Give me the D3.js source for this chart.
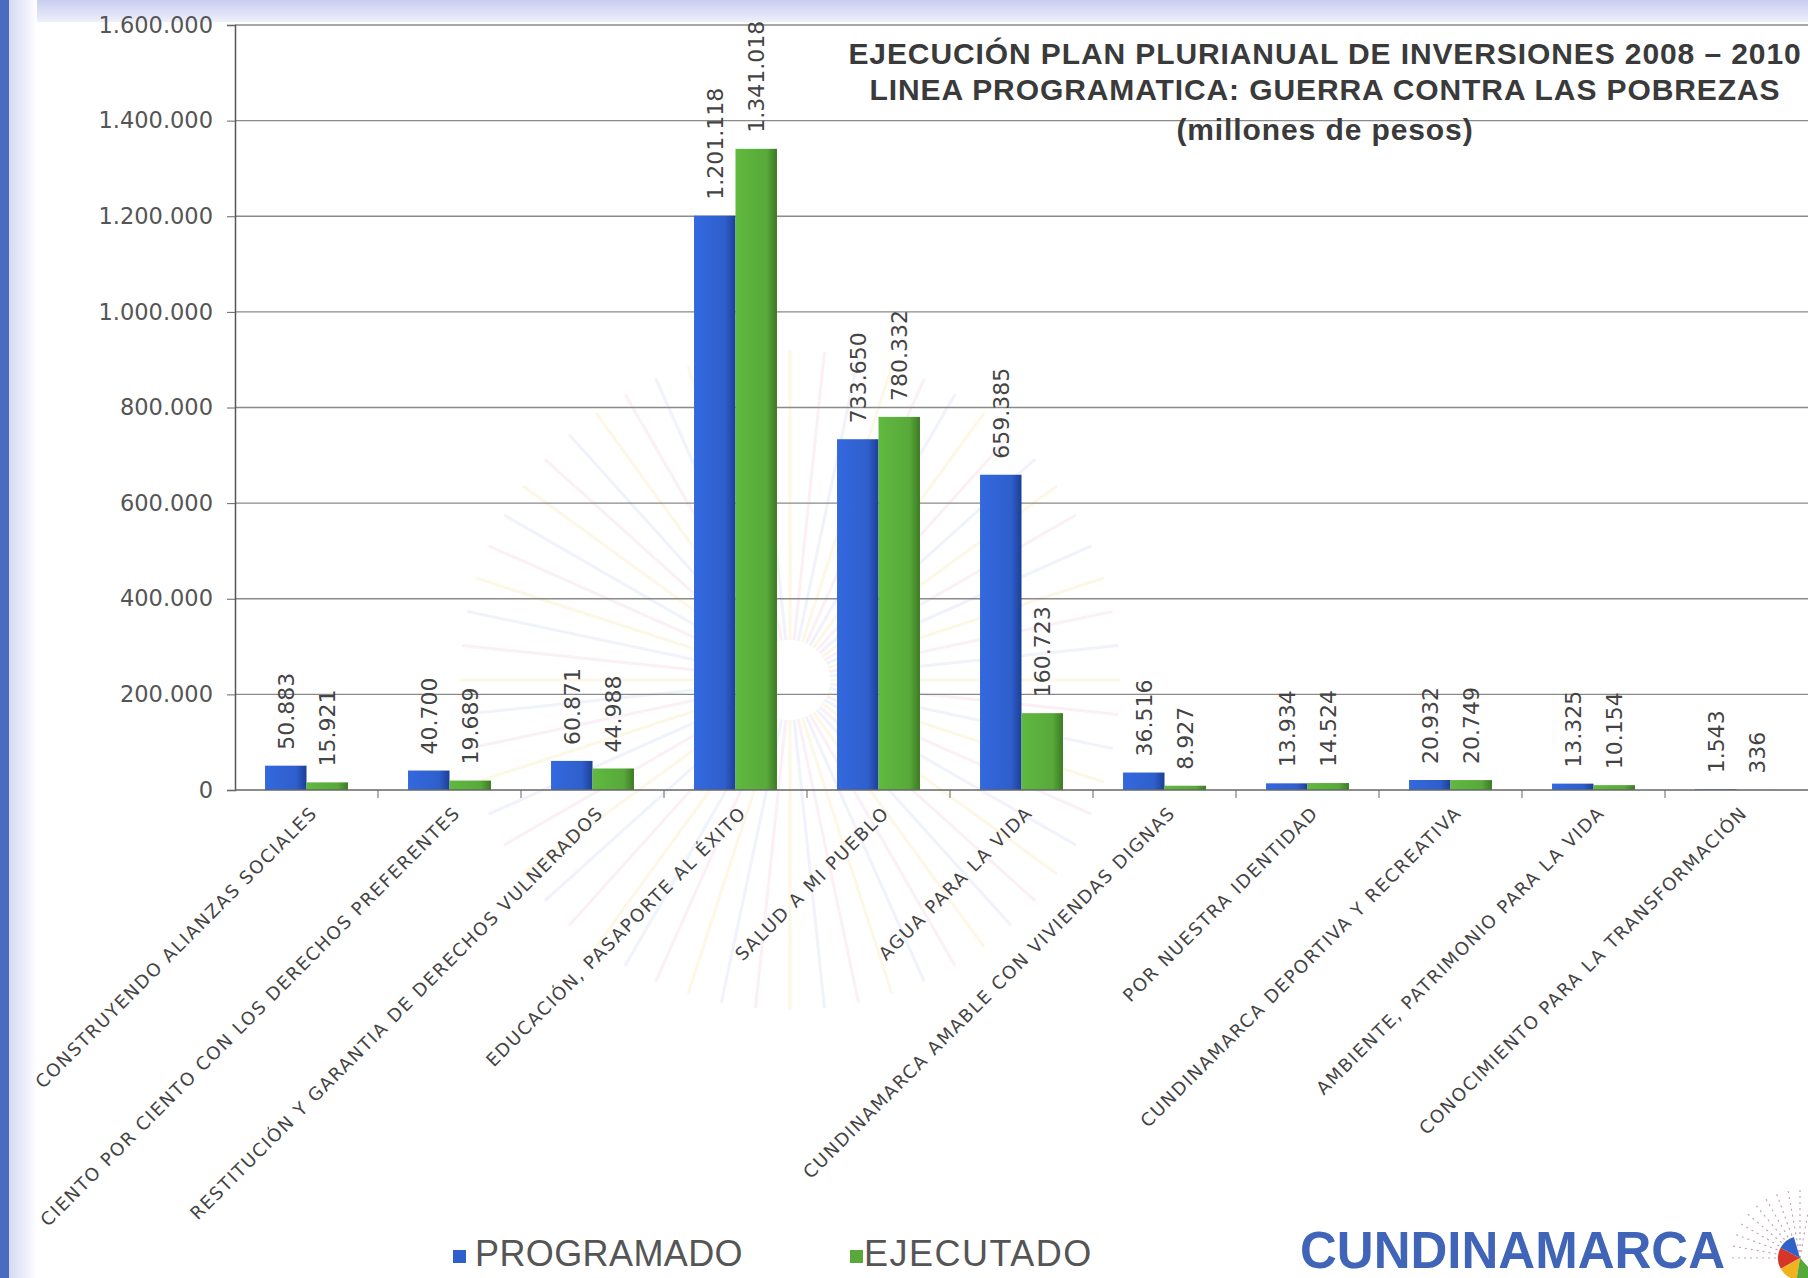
<!DOCTYPE html>
<html>
<head>
<meta charset="utf-8">
<script src="https://cdn.jsdelivr.net/npm/d3@7"></script>
<style>
  body { margin: 0; background: #fff; }
  svg { display: block; }
</style>
</head>
<body>
<div id="chart"></div>
<script>
// data
var categories = [
  "CONSTRUYENDO ALIANZAS SOCIALES",
  "CIENTO POR CIENTO CON LOS DERECHOS PREFERENTES",
  "RESTITUCIÓN Y GARANTIA DE DERECHOS VULNERADOS",
  "EDUCACIÓN, PASAPORTE AL ÉXITO",
  "SALUD A MI PUEBLO",
  "AGUA PARA LA VIDA",
  "CUNDINAMARCA AMABLE CON VIVIENDAS DIGNAS",
  "POR NUESTRA IDENTIDAD",
  "CUNDINAMARCA DEPORTIVA Y RECREATIVA",
  "AMBIENTE, PATRIMONIO PARA LA VIDA",
  "CONOCIMIENTO PARA LA TRANSFORMACIÓN"
];
var programado = [50883, 40700, 60871, 1201118, 733650, 659385, 36516, 13934, 20932, 13325, 1543];
var ejecutado  = [15921, 19689, 44988, 1341018, 780332, 160723, 8927, 14524, 20749, 10154, 336];
var seriesNames = ["PROGRAMADO", "EJECUTADO"];
var yTicks = [0, 200000, 400000, 600000, 800000, 1000000, 1200000, 1400000, 1600000];
var titleLines = [
  "EJECUCIÓN PLAN PLURIANUAL DE INVERSIONES 2008 – 2010",
  "LINEA PROGRAMATICA: GUERRA CONTRA LAS POBREZAS",
  "(millones de pesos)"
];

var W = 1808, H = 1278;
var margin = {top: 25, right: 0, bottom: 488, left: 235},
    width = W - margin.left - margin.right,
    height = H - margin.top - margin.bottom;

var locale = d3.formatLocale({decimal: ",", thousands: ".", grouping: [3], currency: ["$", ""]});
var fmt = locale.format(",d");

var colors = ["#2f5fcc", "#58a93a"];
var darks = ["#1c3f95", "#3c7a24"];

var svg = d3.select("#chart").append("svg")
    .attr("width", W)
    .attr("height", H);

var defs = svg.append("defs");
colors.forEach(function(c, i) {
  var gr = defs.append("linearGradient").attr("id", "g" + i)
      .attr("x1", "0").attr("x2", "1").attr("y1", "0").attr("y2", "0");
  gr.append("stop").attr("offset", "0").attr("stop-color", d3.color(c).brighter(0.25));
  gr.append("stop").attr("offset", "0.75").attr("stop-color", c);
  gr.append("stop").attr("offset", "1").attr("stop-color", darks[i]);
});
var topBand = defs.append("linearGradient").attr("id", "topband")
    .attr("x1", "0").attr("x2", "0").attr("y1", "0").attr("y2", "1");
topBand.append("stop").attr("offset", "0").attr("stop-color", "#c9cdf0");
topBand.append("stop").attr("offset", "1").attr("stop-color", "#eef0fb");
var leftBand = defs.append("linearGradient").attr("id", "leftband")
    .attr("x1", "0").attr("x2", "1").attr("y1", "0").attr("y2", "0");
leftBand.append("stop").attr("offset", "0").attr("stop-color", "#d6d8f3");
leftBand.append("stop").attr("offset", "1").attr("stop-color", "#ffffff");

// page frame: lavender band on top, blue strip at left
svg.append("rect").attr("x", 0).attr("y", 0).attr("width", W).attr("height", 22).attr("fill", "url(#topband)");
svg.append("rect").attr("x", 9).attr("y", 0).attr("width", 28).attr("height", H).attr("fill", "url(#leftband)");
svg.append("rect").attr("x", 0).attr("y", 0).attr("width", 9).attr("height", H).attr("fill", "#4a6cc0");

// faint sunburst watermark
var burst = svg.append("g").attr("transform", "translate(790,680)").attr("opacity", 0.16);
burst.selectAll("line")
  .data(d3.range(0, 360, 6))
  .enter().append("line")
    .attr("x1", function(d) { return 40 * Math.cos(d * Math.PI / 180); })
    .attr("y1", function(d) { return 40 * Math.sin(d * Math.PI / 180); })
    .attr("x2", function(d) { return 330 * Math.cos(d * Math.PI / 180); })
    .attr("y2", function(d) { return 330 * Math.sin(d * Math.PI / 180); })
    .attr("stroke", function(d, i) { return ["#f3d36b", "#e9a7c9", "#a9b8ea"][i % 3]; })
    .attr("stroke-width", 3);

var g = svg.append("g")
    .attr("transform", "translate(" + margin.left + "," + margin.top + ")");

var x0 = d3.scaleBand()
    .domain(categories)
    .range([0, width])
    .paddingInner(0.42)
    .paddingOuter(0.21);

var x1 = d3.scaleBand()
    .domain([0, 1])
    .range([0, x0.bandwidth()]);

var y = d3.scaleLinear()
    .domain([0, 1600000])
    .range([height, 0]);

// gridlines
g.append("g")
  .selectAll("line")
  .data(yTicks.slice(1))
  .enter().append("line")
    .attr("x1", 0)
    .attr("x2", width)
    .attr("y1", function(d) { return y(d); })
    .attr("y2", function(d) { return y(d); })
    .attr("stroke", "#8a8a8a")
    .attr("stroke-width", 1.3);

// y axis
var yAxis = g.append("g")
    .call(d3.axisLeft(y).tickValues(yTicks).tickFormat(fmt).tickSize(8).tickPadding(14));
yAxis.select(".domain").attr("stroke", "#555").attr("stroke-width", 1.5);
yAxis.selectAll(".tick line").attr("stroke", "#666");
yAxis.selectAll("text")
    .attr("font-family", "DejaVu Sans")
    .attr("font-size", 22.5)
    .attr("fill", "#555");

var rows = categories.map(function(c, i) { return {cat: c, vals: [programado[i], ejecutado[i]]}; });

// bars
var groups = g.selectAll(".grp")
  .data(rows)
  .enter().append("g")
    .attr("class", "grp")
    .attr("transform", function(d) { return "translate(" + x0(d.cat) + ",0)"; });

groups.selectAll("rect")
  .data(function(d) { return d.vals.map(function(v, k) { return {k: k, v: v}; }); })
  .enter().append("rect")
    .attr("x", function(d) { return x1(d.k); })
    .attr("y", function(d) { return y(d.v); })
    .attr("width", x1.bandwidth())
    .attr("height", function(d) { return height - y(d.v); })
    .attr("fill", function(d) { return "url(#g" + d.k + ")"; });

// value labels, rotated
groups.selectAll(".val")
  .data(function(d) { return d.vals.map(function(v, k) { return {k: k, v: v}; }); })
  .enter().append("text")
    .attr("class", "val")
    .attr("transform", function(d) {
      return "translate(" + (x1(d.k) + x1.bandwidth() / 2 + 8) + "," + (y(d.v) - 16) + ") rotate(-90)";
    })
    .attr("text-anchor", "start")
    .attr("font-family", "DejaVu Sans")
    .attr("font-size", 22)
    .attr("fill", "#444")
    .text(function(d) { return fmt(d.v); });

// x axis
var xAxis = g.append("g")
    .attr("transform", "translate(0," + height + ")");
xAxis.append("line")
    .attr("x1", 0).attr("x2", width)
    .attr("stroke", "#666").attr("stroke-width", 1.5);
xAxis.selectAll(".sep")
  .data(categories.slice(1))
  .enter().append("line")
    .attr("x1", function(d) { return x0(d) - x0.step() * x0.paddingInner() / 2; })
    .attr("x2", function(d) { return x0(d) - x0.step() * x0.paddingInner() / 2; })
    .attr("y1", 0).attr("y2", 8)
    .attr("stroke", "#666");

xAxis.selectAll(".cat")
  .data(categories)
  .enter().append("text")
    .attr("class", "cat")
    .attr("transform", function(d) {
      return "translate(" + (x0(d) + x0.bandwidth() / 2 + 12) + ",24) rotate(-45)";
    })
    .attr("text-anchor", "end")
    .attr("font-family", "DejaVu Sans")
    .attr("font-size", 18)
    .attr("letter-spacing", 1.6)
    .attr("fill", "#444")
    .text(function(d) { return d; });

// title
svg.append("g")
  .selectAll("text")
  .data(titleLines)
  .enter().append("text")
    .attr("x", 1325)
    .attr("y", function(d, i) { return [64, 100, 140][i]; })
    .attr("text-anchor", "middle")
    .attr("font-family", "Liberation Sans")
    .attr("font-weight", "bold")
    .attr("font-size", 30)
    .attr("letter-spacing", 0.9)
    .attr("fill", "#3a3a3a")
    .text(function(d) { return d; });

// legend
var legend = svg.append("g").attr("transform", "translate(453,1266)");
var leg = legend.selectAll("g")
  .data(seriesNames)
  .enter().append("g")
    .attr("transform", function(d, i) { return "translate(" + (i * 397) + ",0)"; });
leg.append("rect")
    .attr("x", 0).attr("y", -16)
    .attr("width", 13).attr("height", 13)
    .attr("fill", function(d, i) { return colors[i]; });
leg.append("text")
    .attr("x", function(d, i) { return i ? 14 : 22; }).attr("y", 0)
    .attr("font-family", "Liberation Sans")
    .attr("font-size", 36)
    .attr("letter-spacing", function(d, i) { return i ? 1.5 : 0.4; })
    .attr("fill", "#555")
    .text(function(d) { return d; });

// brand mark
svg.append("text")
    .attr("x", 1300).attr("y", 1268)
    .attr("font-family", "Liberation Sans")
    .attr("font-weight", "bold")
    .attr("font-size", 51)
    .attr("fill", "#3f64b8")
    .text("CUNDINAMARCA");

var logo = svg.append("g").attr("transform", "translate(1800,1258)");
logo.selectAll("line")
  .data(d3.range(180, 290, 10))
  .enter().append("line")
    .attr("x1", 0).attr("y1", 0)
    .attr("x2", function(d) { return 70 * Math.cos(d * Math.PI / 180); })
    .attr("y2", function(d) { return 70 * Math.sin(d * Math.PI / 180); })
    .attr("stroke", "#c9a0b8").attr("stroke-dasharray", "2,4").attr("stroke-width", 1.2);
var arc = d3.arc().innerRadius(0).outerRadius(22);
logo.selectAll("path")
  .data([["#d8352a", 4.2, 5.2], ["#2f63c8", 5.2, 6.0], ["#f0b21e", 3.3, 4.2], ["#55a83a", 2.4, 3.3]])
  .enter().append("path")
    .attr("d", function(d) { return arc({startAngle: d[1], endAngle: d[2]}); })
    .attr("fill", function(d) { return d[0]; });
</script>
</body>
</html>
